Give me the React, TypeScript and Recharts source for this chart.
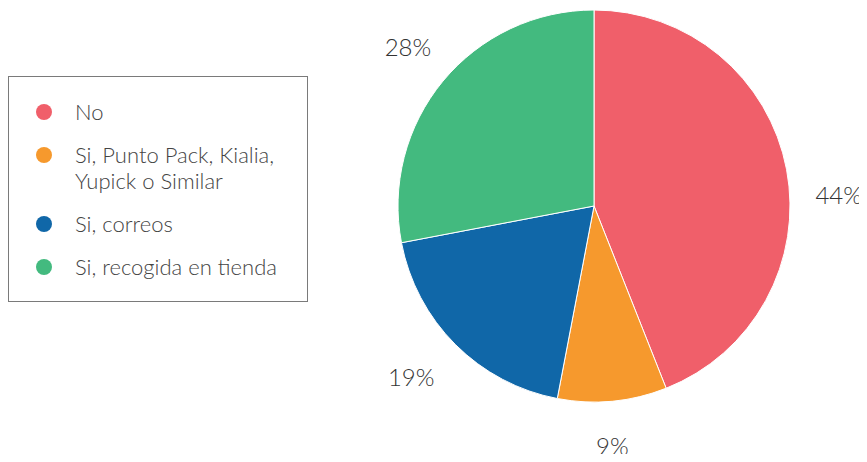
import { PieChart, Pie, Cell, Legend } from "recharts";

const categories = [
  "No",
  "Si, Punto Pack, Kialia, Yupick o Similar",
  "Si, correos",
  "Si, recogida en tienda",
];
const shares = [44, 9, 19, 28];
const colors = ["#F05F6A", "#F6992D", "#1067A8", "#43BA7F"];
// label nudges to match the original placement
const labelShift = [-8, -1, -2, -1];
const labelGap = [49, 44, 54, 49];

const data = categories.map((name, i) => ({ name, value: shares[i] }));

const RADIAN = Math.PI / 180;

const renderLabel = (props: any) => {
  const { cx, cy, midAngle, outerRadius, index, value } = props;
  const angle = midAngle + labelShift[index];
  const r = outerRadius + labelGap[index];
  const x = cx + r * Math.cos(-angle * RADIAN);
  const y = cy + r * Math.sin(-angle * RADIAN);
  return (
    <text
      x={x}
      y={y}
      fill="#333"
      fontSize={24}
      fontWeight={300}
      fontFamily="Lato, sans-serif"
      textAnchor="middle"
      dominantBaseline="central"
    >
      {value}%
    </text>
  );
};

const renderLegend = () => (
  <div
    style={{
      width: 300,
      height: 226,
      boxSizing: "border-box",
      border: "1px solid #7a7a7a",
      paddingTop: 22,
      paddingLeft: 27,
      fontFamily: "Lato, sans-serif",
      fontWeight: 300,
      fontSize: 22,
      color: "#444",
    }}
  >
    {data.map((d, i) => (
      <div
        key={d.name}
        style={{
          display: "flex",
          alignItems: "flex-start",
          lineHeight: "26px",
          marginBottom: 17,
        }}
      >
        <span
          style={{
            width: 16,
            height: 16,
            borderRadius: "50%",
            background: colors[i],
            marginTop: 5,
            flexShrink: 0,
          }}
        />
        <span style={{ marginLeft: 23, maxWidth: 225 }}>{d.name}</span>
      </div>
    ))}
  </div>
);

export default function App() {
  return (
    <div style={{ margin: -8, background: "#fff", width: 867, height: 462 }}>
      <PieChart width={867} height={462} margin={{ top: 0, right: 0, bottom: 0, left: 0 }}>
        <Legend
          content={renderLegend}
          wrapperStyle={{ left: 8, top: 76, width: 300, height: 226 }}
        />
        <Pie
          data={data}
          dataKey="value"
          nameKey="name"
          cx={594}
          cy={206}
          outerRadius={196}
          startAngle={90}
          endAngle={-270}
          stroke="#fff"
          strokeWidth={1}
          label={renderLabel}
          labelLine={false}
          isAnimationActive={false}
        >
          {data.map((d, i) => (
            <Cell key={d.name} fill={colors[i]} />
          ))}
        </Pie>
      </PieChart>
    </div>
  );
}
